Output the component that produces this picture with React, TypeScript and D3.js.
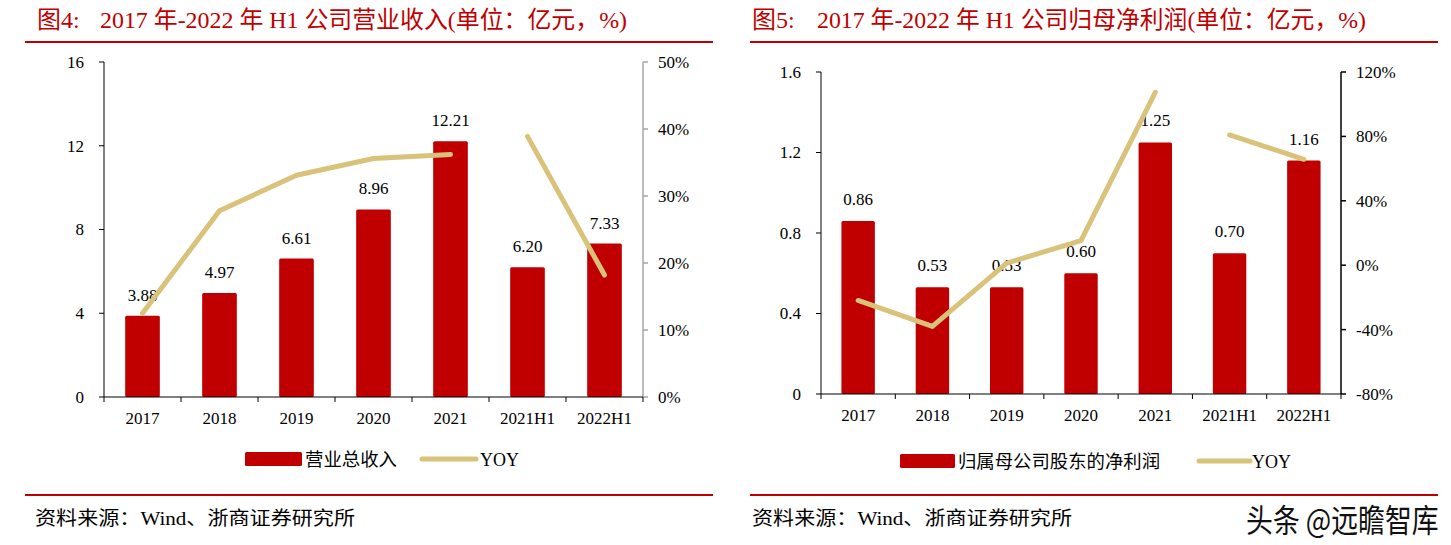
import React from "react";
import * as d3 from "d3";

const categories = ["2017", "2018", "2019", "2020", "2021", "2021H1", "2022H1"];
const revenue = [3.88, 4.97, 6.61, 8.96, 12.21, 6.2, 7.33];
const revenueYoy = [12.5, 27.8, 33.1, 35.6, 36.2, 38.9, 18.2];
const profit = [0.86, 0.53, 0.53, 0.6, 1.25, 0.7, 1.16];
const profitYoy = [-21.9, -38.0, 1.3, 15.3, 107.4, 80.9, 65.8];
const revLeftTicks = [0, 4, 8, 12, 16];
const revRightTicks = [0, 10, 20, 30, 40, 50];
const profLeftTicks = [0, 0.4, 0.8, 1.2, 1.6];
const profRightTicks = [-80, -40, 0, 40, 80, 120];
// Line segments (annual vs half-year are not connected)
const segments = [[0, 1, 2, 3, 4], [5, 6]];

const RED = "#C00000";
const GOLD = "#D9C27A";
const SERIF = "'Liberation Serif', 'Times New Roman', 'Noto Sans CJK SC', serif";
const CJK = "'Liberation Serif', 'Noto Sans CJK SC', serif";

type PanelProps = {
  x0: number; x1: number; yTop: number; yBottom: number;
  bars: number[]; yoy: number[];
  leftDomain: [number, number]; rightDomain: [number, number];
  leftTicks: number[]; rightTicks: number[];
  leftFmt: (v: number) => string;
  rightAxisColor: string;
  labelGap: number;
};

function Panel(p: PanelProps) {
  const x = d3.scaleBand<string>().domain(categories).range([p.x0, p.x1]).paddingInner(0.55).paddingOuter(0.275);
  const xb = d3.scaleBand<string>().domain(categories).range([p.x0, p.x1]);
  const y = d3.scaleLinear().domain(p.leftDomain).range([p.yBottom, p.yTop]);
  const y2 = d3.scaleLinear().domain(p.rightDomain).range([p.yBottom, p.yTop]);
  const line = d3.line<number>().x((i) => (xb(categories[i]) as number) + xb.bandwidth() / 2).y((i) => y2(p.yoy[i]));
  const boundaries = categories.map((c) => xb(c) as number).concat([p.x1]);
  return (
    <g>
      {p.bars.map((v, i) => (
        <rect key={i} x={x(categories[i])} y={y(v)} width={x.bandwidth()} height={y(0) - y(v)} fill={RED} rx={1.5} />
      ))}
      {p.bars.map((v, i) => (
        <text key={"l" + i} x={(xb(categories[i]) as number) + xb.bandwidth() / 2} y={y(v) - p.labelGap}
          textAnchor="middle" fontFamily={SERIF} fontSize={17} fill="#000">{v.toFixed(2)}</text>
      ))}
      {/* left axis */}
      <line x1={p.x0} x2={p.x0} y1={p.yTop} y2={p.yBottom} stroke="#000" strokeWidth={1} />
      {p.leftTicks.map((t, i) => (
        <g key={"lt" + i}>
          <line x1={p.x0 - 5} x2={p.x0} y1={y(t)} y2={y(t)} stroke="#000" />
          <text x={p.x0 - 20} y={y(t)} dy="0.35em" textAnchor="end" fontFamily={SERIF} fontSize={17}>{p.leftFmt(t)}</text>
        </g>
      ))}
      {/* right axis */}
      <line x1={p.x1} x2={p.x1} y1={p.yTop} y2={p.yBottom} stroke={p.rightAxisColor} strokeWidth={1.5} />
      {p.rightTicks.map((t, i) => (
        <g key={"rt" + i}>
          <line x1={p.x1} x2={p.x1 + 5} y1={y2(t)} y2={y2(t)} stroke={p.rightAxisColor} strokeWidth={1.5} />
          <text x={p.x1 + 15} y={y2(t)} dy="0.35em" textAnchor="start" fontFamily={SERIF} fontSize={17}>{t + "%"}</text>
        </g>
      ))}
      {/* x axis */}
      <line x1={p.x0} x2={p.x1} y1={p.yBottom} y2={p.yBottom} stroke="#000" strokeWidth={1} />
      {boundaries.map((b, i) => (
        <line key={"xt" + i} x1={b} x2={b} y1={p.yBottom} y2={p.yBottom + 5} stroke="#000" />
      ))}
      {categories.map((c, i) => (
        <text key={"xl" + i} x={(xb(c) as number) + xb.bandwidth() / 2} y={p.yBottom + 27} textAnchor="middle"
          fontFamily={SERIF} fontSize={17}>{c}</text>
      ))}
      {segments.map((s, i) => (
        <path key={"s" + i} d={line(s) as string} fill="none" stroke={GOLD} strokeWidth={5} strokeLinecap="round" strokeLinejoin="round" />
      ))}
    </g>
  );
}

export default function App() {
  return (
    <svg width={1451} height={545} style={{ position: "absolute", left: 0, top: 0, background: "#fff" }}>
      <rect width={1451} height={545} fill="#fff" />
      {/* Titles */}
      <text x={37} y={28} fontFamily={CJK} fontSize={24} fill={RED}>图4:</text>
      <text x={100} y={28} fontFamily={CJK} fontSize={24} fill={RED} textLength={527} lengthAdjust="spacingAndGlyphs">2017 年-2022 年 H1 公司营业收入(单位：亿元，%)</text>
      <text x={752} y={28} fontFamily={CJK} fontSize={24} fill={RED}>图5:</text>
      <text x={817} y={28} fontFamily={CJK} fontSize={24} fill={RED} textLength={549} lengthAdjust="spacingAndGlyphs">2017 年-2022 年 H1 公司归母净利润(单位：亿元，%)</text>
      <line x1={25} x2={713} y1={42} y2={42} stroke={RED} strokeWidth={2} />
      <line x1={750} x2={1438} y1={42} y2={42} stroke={RED} strokeWidth={2} />

      <Panel x0={104} x1={643} yTop={62} yBottom={397} bars={revenue} yoy={revenueYoy}
        leftDomain={[0, 16]} rightDomain={[0, 50]} leftTicks={revLeftTicks} rightTicks={revRightTicks}
        leftFmt={(v) => String(v)} rightAxisColor="#A6A6A6" labelGap={15} />
      <Panel x0={821} x1={1341} yTop={72} yBottom={394} bars={profit} yoy={profitYoy}
        leftDomain={[0, 1.6]} rightDomain={[-80, 120]} leftTicks={profLeftTicks} rightTicks={profRightTicks}
        leftFmt={(v) => (v === 0 ? "0" : v.toFixed(1))} rightAxisColor="#000" labelGap={16} />

      {/* Legends */}
      <rect x={245} y={452} width={57} height={14} fill={RED} rx={1.5} />
      <text x={305} y={466} fontFamily={CJK} fontSize={18} textLength={92} lengthAdjust="spacingAndGlyphs">营业总收入</text>
      <line x1={422} x2={476} y1={459} y2={459} stroke={GOLD} strokeWidth={5} strokeLinecap="round" />
      <text x={480} y={466} fontFamily={SERIF} fontSize={18}>YOY</text>

      <rect x={900} y={454} width={55} height={14} fill={RED} rx={1.5} />
      <text x={958} y={468} fontFamily={CJK} fontSize={18} textLength={202} lengthAdjust="spacingAndGlyphs">归属母公司股东的净利润</text>
      <line x1={1199} x2={1250} y1={461} y2={461} stroke={GOLD} strokeWidth={5} strokeLinecap="round" />
      <text x={1252} y={468} fontFamily={SERIF} fontSize={18}>YOY</text>

      {/* Bottom rules and sources */}
      <line x1={25} x2={713} y1={495} y2={495} stroke={RED} strokeWidth={2} />
      <line x1={750} x2={1438} y1={495} y2={495} stroke={RED} strokeWidth={2} />
      <text x={35} y={525} fontFamily={CJK} fontSize={19} textLength={320} lengthAdjust="spacingAndGlyphs">资料来源：Wind、浙商证券研究所</text>
      <text x={752} y={525} fontFamily={CJK} fontSize={19} textLength={320} lengthAdjust="spacingAndGlyphs">资料来源：Wind、浙商证券研究所</text>

      {/* Watermark */}
      <g transform="translate(1246,532) scale(0.84,1)">
        <text x={0} y={0} fontFamily="'Noto Sans CJK SC', sans-serif" fontSize={32} fill="#111"
          stroke="#fff" strokeWidth={3} paintOrder="stroke">头条 @远瞻智库</text>
      </g>
    </svg>
  );
}
